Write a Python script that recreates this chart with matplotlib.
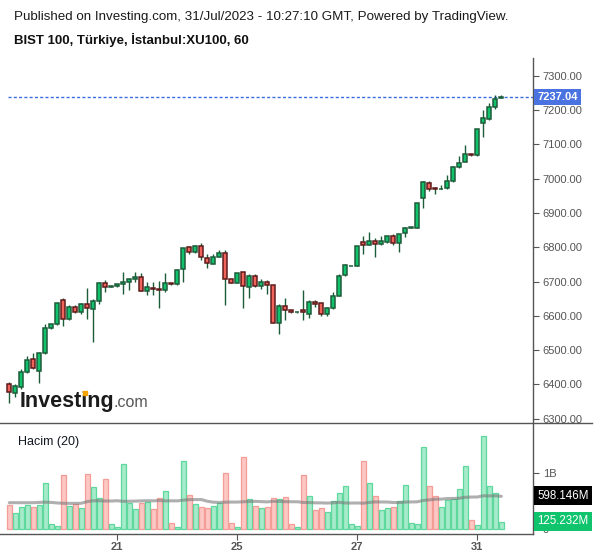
import numpy as np
import pandas as pd
import matplotlib
matplotlib.use('Agg')
import matplotlib.pyplot as plt
from matplotlib.lines import Line2D
from matplotlib.patches import Rectangle

# ---------------- data (hourly candles, BIST 100) ----------------
opens = [6401, 6374, 6393, 6435, 6473, 6440, 6493, 6563, 6575, 6645,
         6590, 6626, 6610, 6633, 6619, 6642, 6695, 6683, 6686, 6692,
         6698, 6706, 6713, 6671, 6681, 6678, 6674, 6696, 6692, 6737,
         6800, 6787, 6803, 6768, 6752, 6772, 6782, 6706, 6697, 6727,
         6685, 6716, 6686, 6698, 6689, 6580, 6628, 6616, 6610, 6616,
         6606, 6639, 6636, 6606, 6624, 6659, 6718, 6744, 6745, 6814,
         6807, 6818, 6810, 6816, 6833, 6813, 6840, 6857, 6857, 6942,
         6986, 6972, 6970, 6972, 6992, 7033, 7048, 7071, 7068, 7163,
         7173, 7208, 7236]
highs = [6408, 6401, 6444, 6483, 6493, 6494, 6575, 6576, 6638, 6653,
         6631, 6631, 6638, 6682, 6650, 6698, 6704, 6687, 6693, 6729,
         6711, 6728, 6724, 6700, 6700, 6702, 6724, 6697, 6737, 6799,
         6804, 6805, 6811, 6779, 6779, 6792, 6792, 6707, 6724, 6727,
         6722, 6722, 6707, 6704, 6689, 6635, 6651, 6617, 6611, 6675,
         6646, 6646, 6636, 6627, 6669, 6722, 6750, 6745, 6803, 6833,
         6844, 6826, 6833, 6833, 6839, 6839, 6859, 6858, 6928, 6993,
         6993, 6975, 6981, 7011, 7037, 7066, 7098, 7071, 7144, 7200,
         7220, 7244, 7244]
lows = [6345, 6364, 6387, 6433, 6445, 6405, 6490, 6562, 6573, 6571,
        6589, 6609, 6606, 6592, 6525, 6634, 6670, 6683, 6685, 6665,
        6676, 6698, 6673, 6661, 6661, 6624, 6668, 6690, 6690, 6698,
        6779, 6782, 6764, 6738, 6752, 6772, 6632, 6696, 6696, 6624,
        6653, 6684, 6679, 6665, 6580, 6546, 6589, 6609, 6609, 6589,
        6595, 6627, 6600, 6600, 6621, 6658, 6716, 6744, 6745, 6780,
        6807, 6772, 6807, 6813, 6807, 6787, 6831, 6857, 6857, 6915,
        6964, 6956, 6969, 6971, 6991, 7032, 7047, 7067, 7067, 7120,
        7172, 7202, 7234]
closes = [6377, 6395, 6436, 6470, 6447, 6492, 6563, 6575, 6636, 6590,
          6626, 6610, 6633, 6622, 6642, 6695, 6683, 6686, 6692, 6699,
          6707, 6713, 6673, 6684, 6677, 6674, 6696, 6692, 6734, 6797,
          6787, 6803, 6770, 6755, 6772, 6782, 6706, 6697, 6724, 6688,
          6715, 6687, 6699, 6689, 6580, 6628, 6616, 6610, 6611, 6610,
          6639, 6635, 6606, 6622, 6657, 6716, 6747, 6745, 6803, 6805,
          6818, 6810, 6818, 6833, 6813, 6839, 6855, 6858, 6928, 6989,
          6971, 6969, 6971, 6992, 7033, 7046, 7071, 7068, 7144, 7177,
          7208, 7231, 7237.04]
# volume in billions
volumes = [0.429, 0.286, 0.387, 0.423, 0.387, 0.423, 0.815, 0.083, 0.048, 0.964,
           0.405, 0.440, 0.369, 0.976, 0.744, 0.548, 0.887, 0.083, 0.030, 1.155,
           0.458, 0.351, 0.458, 0.476, 0.351, 0.548, 0.673, 0.107, 0.030, 1.220,
           0.601, 0.440, 0.387, 0.369, 0.405, 0.458, 0.994, 0.107, 0.030, 1.280,
           0.530, 0.405, 0.369, 0.387, 0.548, 0.530, 0.565, 0.083, 0.030, 0.958,
           0.583, 0.333, 0.369, 0.298, 0.494, 0.637, 0.762, 0.083, 0.048, 1.208,
           0.815, 0.583, 0.333, 0.369, 0.387, 0.494, 0.780, 0.101, 0.083, 1.458,
           0.762, 0.583, 0.387, 0.512, 0.530, 0.708, 1.119, 0.155, 0.065, 1.655,
           0.762, 0.637, 0.125232]
# MA(20) of volume as read for the first 19 bars (earlier history not shown)
vol_ma_lead = [0.47, 0.47, 0.47, 0.47, 0.47, 0.475, 0.48, 0.475, 0.465, 0.46,
               0.458, 0.458, 0.46, 0.49, 0.505, 0.505, 0.50, 0.50, 0.505]
day_tick_bars = [19, 39, 59, 79]
day_tick_labels = ['21', '25', '27', '31']
price_ticks = [6300, 6400, 6500, 6600, 6700, 6800, 6900, 7000, 7100, 7200, 7300]
vol_ticks = [0, 1]
vol_tick_labels = ['0', '1B']
last_price = 7237.04
ma_label = '598.146M'
vol_label = '125.232M'

# ---------------- figure ----------------
W, H = 600, 558
plt.rcParams['font.family'] = ['Liberation Sans', 'DejaVu Sans']
fig = plt.figure(figsize=(W / 100, H / 100), dpi=100)


def rect(l, t, r, b):
    return [l / W, 1 - b / H, (r - l) / W, (b - t) / H]


axp = fig.add_axes(rect(0, 58, 533, 423))
axv = fig.add_axes(rect(0, 423, 533, 534), sharex=axp)

o = np.array(opens, float)
h = np.array(highs, float)
l = np.array(lows, float)
c = np.array(closes, float)
v = np.array(volumes, float)
x = np.arange(1, len(o) + 1)
up = c >= o

GREEN = '#10c26c'
GREEN_EDGE = '#1c5c39'
RED = '#f0645b'
RED_EDGE = '#5e1a1a'

axp.vlines(x, l, h, color=GREEN_EDGE, lw=1.0, zorder=2)
bb = np.minimum(o, c)
bh = np.maximum(np.abs(c - o), 1.0)
axp.bar(x[up], bh[up], bottom=bb[up], width=0.64, color=GREEN,
        edgecolor=GREEN_EDGE, lw=1.1, zorder=3)
axp.bar(x[~up], bh[~up], bottom=bb[~up], width=0.64, color=RED,
        edgecolor=RED_EDGE, lw=1.1, zorder=3)

axp.set_xlim(-0.55, 88.28)
axp.set_ylim(6287.5, 7351.6)

# last price line
axp.axhline(last_price, xmin=8 / 533, xmax=1, color='#3b6be0', lw=1.0,
            dashes=(2.2, 1.6), zorder=1)

for s in ['top', 'left', 'bottom']:
    axp.spines[s].set_visible(False)
axp.spines['right'].set_color('#555555')
axp.spines['right'].set_linewidth(1.0)
axp.yaxis.tick_right()
axp.set_yticks(price_ticks)
axp.set_yticklabels([f'{t:.2f}' for t in price_ticks])
axp.tick_params(axis='y', length=4, width=0.8, color='#555555',
                labelcolor='#555555', labelsize=8, pad=3)
axp.tick_params(axis='x', bottom=False, labelbottom=False)

axp.annotate(f'{last_price:.2f}', xy=(1.0, last_price),
             xycoords=axp.get_yaxis_transform(), xytext=(3.2, 0),
             textcoords='offset points', ha='left', va='center',
             color='white', fontsize=8, fontweight='bold',
             bbox=dict(boxstyle='square,pad=0.28', fc='#4a72e0', ec='none'),
             annotation_clip=False, zorder=10)

# ---------------- volume ----------------
vcol = np.where(up, '#a6ebca', '#fdc7c4')
ecol = np.where(up, '#5fd89e', '#f49d97')
axv.bar(x, v, width=0.88, color=vcol, edgecolor=ecol, lw=0.9, zorder=2)
ma = pd.Series(v).rolling(20).mean().to_numpy()
ma[:19] = vol_ma_lead
axv.plot(x, ma, color='#7a7a7a', lw=2.2, alpha=0.6, zorder=3,
         solid_capstyle='round')

axv.set_ylim(-0.089, 1.893)
for s in ['top', 'left']:
    axv.spines[s].set_visible(False)
for s in ['right', 'bottom']:
    axv.spines[s].set_color('#555555')
    axv.spines[s].set_linewidth(1.0)
axv.yaxis.tick_right()
axv.set_yticks(vol_ticks)
axv.set_yticklabels(vol_tick_labels)
axv.tick_params(axis='y', length=4, width=0.8, color='#555555',
                labelcolor='#555555', labelsize=8, pad=3)
axv.set_xticks(day_tick_bars)
axv.set_xticklabels(day_tick_labels, fontweight='bold')
axv.tick_params(axis='x', length=4, width=0.8, color='#555555',
                labelcolor='#555555', labelsize=8, pad=2)

axv.annotate(ma_label, xy=(1.0, 0.598146), xycoords=axv.get_yaxis_transform(),
             xytext=(3.2, 0), textcoords='offset points', ha='left',
             va='center', color='white', fontsize=8.3,
             bbox=dict(boxstyle='square,pad=0.3', fc='#000000', ec='none'),
             annotation_clip=False, zorder=10)
axv.annotate(vol_label, xy=(1.0, 0.14), xycoords=axv.get_yaxis_transform(),
             xytext=(3.2, 0), textcoords='offset points', ha='left',
             va='center', color='white', fontsize=8.3,
             bbox=dict(boxstyle='square,pad=0.3', fc='#0fc46d', ec='none'),
             annotation_clip=False, zorder=10)

axv.text(0.034, 0.83, 'Hacim (20)', transform=axv.transAxes, fontsize=9,
         color='#131722', va='center', ha='left')

# separator line between panes
fig.add_artist(Line2D([0, 592 / W], [1 - 423 / H, 1 - 423 / H],
                      transform=fig.transFigure, color='#555555', lw=1.0))

# ---------------- header ----------------
fig.text(14 / W, 1 - 17 / H,
         'Published on Investing.com, 31/Jul/2023 - 10:27:10 GMT, Powered by TradingView.',
         fontsize=9.6, color='#1a1a1a', va='center', ha='left')
fig.text(14 / W, 1 - 40 / H, 'BIST 100, Türkiye, İstanbul:XU100, 60',
         fontsize=9.5, fontweight='bold', color='#111111', va='center', ha='left')

# ---------------- logo ----------------
LOGO_FS = 15.5
base_y = 407
t1 = fig.text(20 / W, 1 - base_y / H, 'Investing', fontsize=LOGO_FS,
              fontweight='bold', color='#1b1b1b', va='baseline', ha='left')
fig.canvas.draw()
r = fig.canvas.get_renderer()
bb1 = t1.get_window_extent(r)
# locate the dot of the 'i' to paint it orange
tmp = fig.text(20 / W, 1 - base_y / H, 'Invest', fontsize=LOGO_FS,
               fontweight='bold', va='baseline', ha='left')
w_pre = tmp.get_window_extent(r).width
tmp.set_text('i')
w_i = tmp.get_window_extent(r).width
tmp.remove()
px_per_pt = 100 / 72
em = LOGO_FS * px_per_pt
dot_cx = 20 + w_pre + w_i / 2
dot_cy_from_bottom = (H - base_y) + 0.645 * em
dw, dh = 0.17 * em, 0.16 * em
fig.add_artist(Rectangle(((dot_cx - dw / 2) / W, (dot_cy_from_bottom - dh / 2) / H),
                         dw / W, dh / H, transform=fig.transFigure,
                         color='#f5a300', zorder=20))
fig.text((bb1.x1 - 1) / W, 1 - base_y / H, '.com', fontsize=11.5,
         color='#555555', va='baseline', ha='left')

fig.savefig('out.png', dpi=100)
